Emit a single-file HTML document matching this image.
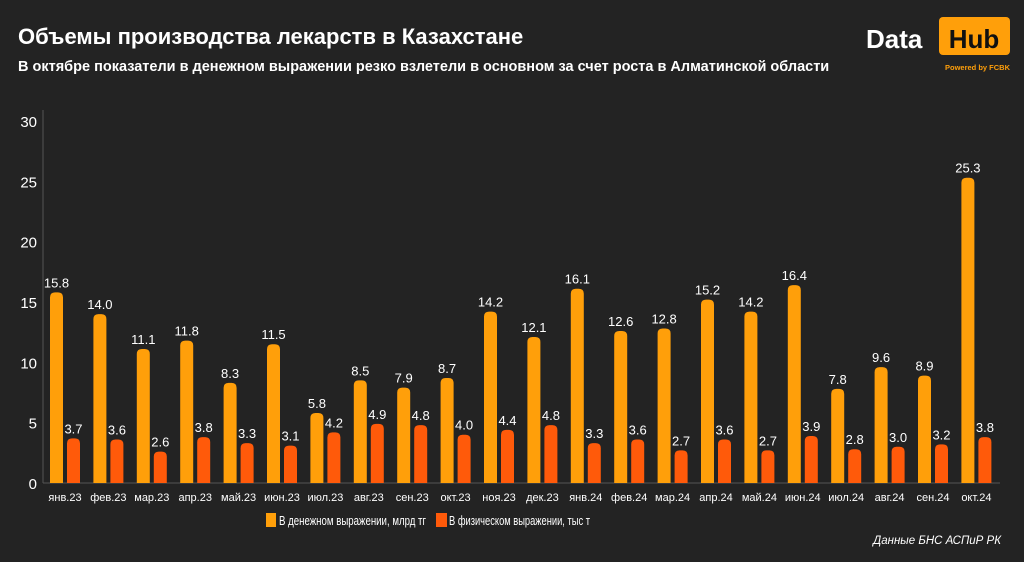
<!DOCTYPE html>
<html><head><meta charset="utf-8"><style>
body{margin:0;background:#232323;width:1024px;height:557px;overflow:hidden;font-family:"Liberation Sans",sans-serif;}
</style></head><body>
<svg width="1024" height="557" xmlns="http://www.w3.org/2000/svg">
<rect width="1024" height="557" fill="#232323"/>
<text x="18" y="44" fill="#fff" font-size="22" font-weight="bold">Объемы производства лекарств в Казахстане</text>
<text x="18" y="71" fill="#fff" font-size="14.5" font-weight="bold">В октябре показатели в денежном выражении резко взлетели в основном за счет роста в Алматинской области</text>
<g>
<text x="866" y="48" fill="#fff" font-size="26" font-weight="bold">Data</text>
<rect x="939" y="17" width="71" height="38" rx="4" fill="#FF9F0A"/>
<text x="974" y="48" fill="#111" font-size="26" font-weight="bold" text-anchor="middle">Hub</text>
<text x="1010" y="70" fill="#FF9F0A" font-size="7.5" font-weight="bold" text-anchor="end">Powered by FCBK</text>
</g>
<g id="axes"></g>
<g id="bars"></g>
<g>
<rect x="266" y="513" width="10" height="14" fill="#FF9F0A"/>
<text x="279" y="525" fill="#fff" font-size="13" textLength="147" lengthAdjust="spacingAndGlyphs">В денежном выражении, млрд тг</text>
<rect x="436" y="513" width="11" height="14" fill="#FF5A0A"/>
<text x="449" y="525" fill="#fff" font-size="13" textLength="141" lengthAdjust="spacingAndGlyphs">В физическом выражении, тыс т</text>
</g>
<text x="1001" y="544" fill="#fff" font-size="11.5" font-style="italic" text-anchor="end">Данные БНС АСПиР РК</text>
</svg>
<script>
const categories=["янв.23","фев.23","мар.23","апр.23","май.23","июн.23","июл.23","авг.23","сен.23","окт.23","ноя.23","дек.23","янв.24","фев.24","мар.24","апр.24","май.24","июн.24","июл.24","авг.24","сен.24","окт.24"];
const moneyValues=[15.8,14.0,11.1,11.8,8.3,11.5,5.8,8.5,7.9,8.7,14.2,12.1,16.1,12.6,12.8,15.2,14.2,16.4,7.8,9.6,8.9,25.3];
const physicalValues=[3.7,3.6,2.6,3.8,3.3,3.1,4.2,4.9,4.8,4.0,4.4,4.8,3.3,3.6,2.7,3.6,2.7,3.9,2.8,3.0,3.2,3.8];
const yTicks=[0,5,10,15,20,25,30];
const NS="http://www.w3.org/2000/svg";
const y0=483,yTop=121,yMax=30;
function y(v){return y0-(v/yMax)*(y0-yTop);}
const groupStart=50,groupStep=43.4,barW=13;
function x(i){return groupStart+i*groupStep;}
function mk(tag,attrs,parent){const e=document.createElementNS(NS,tag);for(const k in attrs)e.setAttribute(k,attrs[k]);parent.appendChild(e);return e;}
const axes=document.getElementById('axes'),bars=document.getElementById('bars');
const ax=mk('line',{x1:43,y1:110,x2:43,y2:y0,stroke:'#555','stroke-width':1},axes);


const bx=mk('line',{x1:43,y1:y0,x2:1000,y2:y0,stroke:'#555','stroke-width':1},axes);


yTicks.forEach(t=>{const e=mk('text',{x:37,y:y(t)+6,fill:'#fff','font-size':15,'text-anchor':'end'},axes);e.textContent=t;

});
function bar(cx,w,v,col,parent){const top=y(v),h=y0-top,r=Math.min(5,h/2);
const d=`M${cx},${y0}V${top+r}Q${cx},${top} ${cx+r},${top}H${cx+w-r}Q${cx+w},${top} ${cx+w},${top+r}V${y0}Z`;
return mk('path',{d:d,fill:col},parent);}
categories.forEach((c,i)=>{
const xo=x(i);
const b1=bar(xo,barW,moneyValues[i],'#FF9F0A',bars);


const b2=bar(xo+17,barW,physicalValues[i],'#FF5A0A',bars);


const l1=mk('text',{x:xo+barW/2,y:y(moneyValues[i])-5,fill:'#fff','font-size':13,'text-anchor':'middle'},bars);
l1.textContent=moneyValues[i].toFixed(1);


const l2=mk('text',{x:xo+17+barW/2,y:y(physicalValues[i])-5,fill:'#fff','font-size':13,'text-anchor':'middle'},bars);
l2.textContent=physicalValues[i].toFixed(1);


const xl=mk('text',{x:xo+15,y:501,fill:'#fff','font-size':11,'text-anchor':'middle'},bars);
xl.textContent=c;


});
</script>
</body></html>
